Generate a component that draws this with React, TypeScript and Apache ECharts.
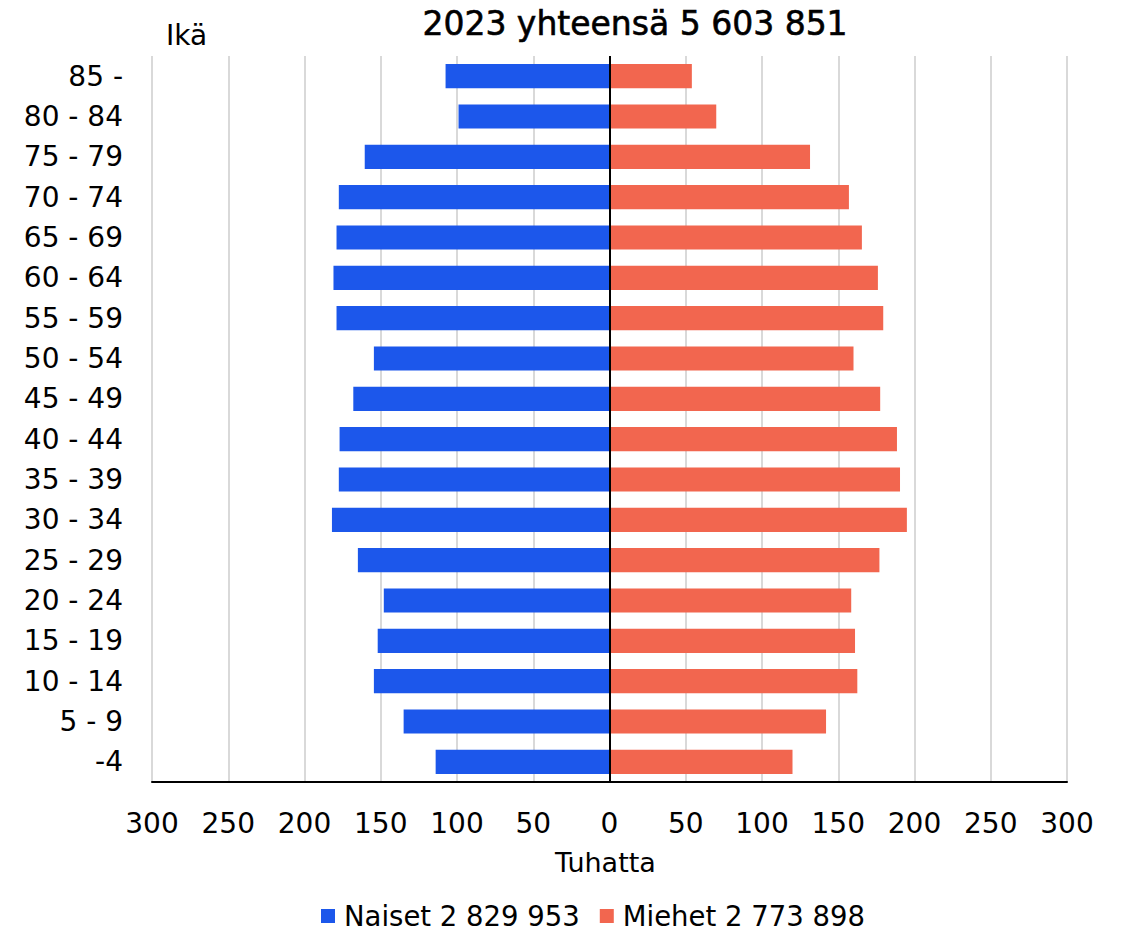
import React, { useEffect, useRef } from "react";
import * as echarts from "echarts";

const ageGroups = ["-4", "5 - 9", "10 - 14", "15 - 19", "20 - 24", "25 - 29", "30 - 34", "35 - 39", "40 - 44", "45 - 49", "50 - 54", "55 - 59", "60 - 64", "65 - 69", "70 - 74", "75 - 79", "80 - 84", "85 -"];
const naiset = [114, 135, 154.5, 152, 148, 165, 182, 177.5, 177, 168, 154.5, 179, 181, 179, 177.5, 160.5, 99, 107.5];
const miehet = [120, 142, 162.5, 161, 158.5, 177, 195, 190.5, 188.5, 177.5, 160, 179.5, 176, 165.5, 157, 131.5, 70, 54];
const titleText = "2023 yhteensä 5 603 851";
const naisetName = "Naiset 2 829 953";
const miehetName = "Miehet 2 773 898";
const yAxisTitle = "Ikä";
const xAxisTitle = "Tuhatta";

const FONT = "DejaVu Sans";

export default function App() {
  const ref = useRef<HTMLDivElement>(null);
  useEffect(() => {
    document.body.style.margin = "0";
    const chart = echarts.init(ref.current!, null, { renderer: "svg" });
    chart.setOption({
      animation: false,
      textStyle: { fontFamily: FONT, color: "#000" },
      title: {
        text: titleText,
        left: 630,
        top: 2,
        textAlign: "center",
        textStyle: { fontFamily: FONT, fontSize: 33, fontWeight: "normal", color: "#000", textBorderColor: "#000", textBorderWidth: 0.6 },
      },
      graphic: [
        { type: "text", left: 166, top: 21, style: { text: yAxisTitle, fontFamily: FONT, fontSize: 28, fill: "#000" } },
        { type: "text", left: 555, top: 849, style: { text: xAxisTitle, fontFamily: FONT, fontSize: 27, fill: "#000" } },
      ],
      legend: {
        top: 897,
        left: 316,
        itemWidth: 14,
        itemHeight: 14,
        itemGap: 20,
        icon: "rect",
        textStyle: { fontFamily: FONT, fontSize: 27.5, color: "#000", padding: [0, 0, 0, 4] },
        data: [naisetName, miehetName],
      },
      grid: { left: 152, right: 58, top: 56, bottom: 149, containLabel: false },
      xAxis: {
        type: "value",
        min: -300,
        max: 300,
        interval: 50,
        axisLine: { show: true, onZero: false, lineStyle: { color: "#000", width: 2 } },
        axisTick: { show: false },
        splitLine: { show: true, lineStyle: { color: "#d9d9d9", width: 2 } },
        axisLabel: {
          fontFamily: FONT,
          fontSize: 28,
          color: "#000",
          margin: 27,
          formatter: (v: number) => String(Math.abs(v)),
        },
      },
      yAxis: {
        type: "category",
        data: ageGroups,
        axisLine: { show: false, onZero: false },
        axisTick: { show: false },
        axisLabel: { fontFamily: FONT, fontSize: 28, color: "#000", margin: 29 },
      },
      series: [
        {
          name: naisetName,
          type: "bar",
          stack: "total",
          barWidth: "60%",
          itemStyle: { color: "#1c57eb" },
          data: naiset.map((v) => -v),
          markLine: {
            silent: true,
            symbol: "none",
            label: { show: false },
            lineStyle: { color: "#000", width: 2, type: "solid" },
            data: [{ xAxis: 0 }],
          },
        },
        {
          name: miehetName,
          type: "bar",
          stack: "total",
          barWidth: "60%",
          itemStyle: { color: "#f2664f" },
          data: miehet,
        },
      ],
    });
    return () => chart.dispose();
  }, []);
  return <div ref={ref} style={{ width: 1125, height: 931 }} />;
}
